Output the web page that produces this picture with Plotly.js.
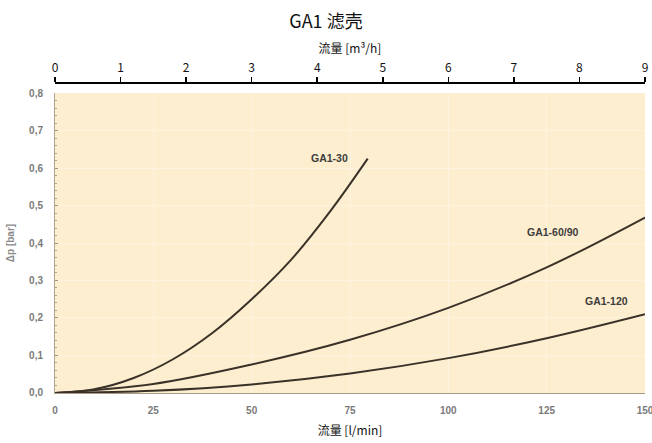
<!DOCTYPE html>
<html>
<head>
<meta charset="utf-8">
<script src="https://cdn.plot.ly/plotly-3.0.1.min.js"></script>
<style>html,body{margin:0;padding:0;background:#fff;}#chart{width:652px;height:443px;}</style>
</head>
<body>
<div id="chart"></div>
<script>
// Flow in l/min and pressure drop in bar
const flow30 = [0, 10, 20, 30, 40, 50, 60, 70, 79.5];
const dp30 = [0, 0.010, 0.040, 0.090, 0.160, 0.250, 0.355, 0.485, 0.625];
const flow6090 = [0, 25, 50, 75, 100, 125, 150];
const dp6090 = [0, 0.024, 0.076, 0.142, 0.227, 0.335, 0.468];
const flow120 = [0, 25, 50, 75, 100, 125, 150];
const dp120 = [0, 0.006, 0.023, 0.052, 0.093, 0.146, 0.210];
const seriesNames = ['GA1-30', 'GA1-60/90', 'GA1-120'];
const labelX = [69.9, 126.6, 140.1];
const labelY = [0.627, 0.429, 0.245];
const topTicks = [0, 1, 2, 3, 4, 5, 6, 7, 8, 9];

const narrow = '"Noto Sans CJK SC", "Noto Sans", sans-serif';
const bold = 'Liberation Sans, Arial, sans-serif';
const lineStyle = {color: '#3a3228', width: 2, shape: 'spline'};

const traces = [
  {x: flow30, y: dp30, name: seriesNames[0], mode: 'lines', line: lineStyle},
  {x: flow6090, y: dp6090, name: seriesNames[1], mode: 'lines', line: lineStyle},
  {x: flow120, y: dp120, name: seriesNames[2], mode: 'lines', line: lineStyle},
  {x: topTicks, y: topTicks.map(() => null), xaxis: 'x2', yaxis: 'y', mode: 'lines', hoverinfo: 'skip', showlegend: false}
];

const annotations = seriesNames.map((n, i) => ({
  x: labelX[i], y: labelY[i], xref: 'x', yref: 'y', text: n, showarrow: false,
  font: {family: bold, size: 10.5, color: '#3d3d3d', weight: 'bold'}
}));

const layout = {
  width: 652, height: 443,
  margin: {l: 55, r: 7, t: 82, b: 50},
  paper_bgcolor: '#ffffff',
  plot_bgcolor: '#fdeecf',
  showlegend: false,
  separators: ',.',
  title: {text: 'GA1 滤壳', x: 0.5, xanchor: 'center', y: 0.952, yanchor: 'middle',
          font: {family: narrow, size: 18, color: '#111'}},
  xaxis: {
    range: [0, 150], dtick: 25, tick0: 0, showgrid: true, gridcolor: '#fcf3e0', gridwidth: 1,
    zeroline: false, showline: true, linecolor: '#a89c86', linewidth: 1, ticks: '',
    ticklabelstandoff: 8, ticklabeloverflow: 'allow',
    tickfont: {family: bold, size: 10, color: '#7a7a7a', weight: 'bold'},
    title: {text: '流量 [l/min]', standoff: 11, font: {family: narrow, size: 12, color: '#111'}},
    anchor: 'y'
  },
  xaxis2: {
    range: [0, 9], dtick: 1, tick0: 0, overlaying: 'x', side: 'top', anchor: 'free', position: 1,
    showgrid: false, zeroline: false, showline: true, linecolor: '#000', linewidth: 1.5,
    ticks: 'outside', ticklen: 5, tickwidth: 1.5, tickcolor: '#000', ticklabeloverflow: 'allow',
    tickfont: {family: narrow, size: 12, color: '#111'},
    title: {text: '流量 [m³/h]', standoff: 0, font: {family: narrow, size: 12, color: '#111'}}
  },
  yaxis: {
    range: [0, 0.8], dtick: 0.1, tick0: 0, tickformat: '.1f', domain: [0, 0.9646],
    showgrid: true, gridcolor: '#fcf3e0', gridwidth: 1, zeroline: false,
    showline: true, linecolor: '#b0a590', linewidth: 1, ticks: 'inside', ticklen: 3, tickcolor: '#a09580',
    minor: {dtick: 0.02, ticks: 'inside', ticklen: 2, tickcolor: '#b0a590'},
    ticklabelstandoff: 9,
    tickfont: {family: bold, size: 10, color: '#7a7a7a', weight: 'bold'},
    title: {text: 'Δp [bar]', standoff: 12, font: {family: bold, size: 10, color: '#8a8a8a', weight: 'bold'}}
  },
  annotations: annotations
};

Plotly.newPlot('chart', traces, layout, {displayModeBar: false, staticPlot: true});
</script>
</body>
</html>
